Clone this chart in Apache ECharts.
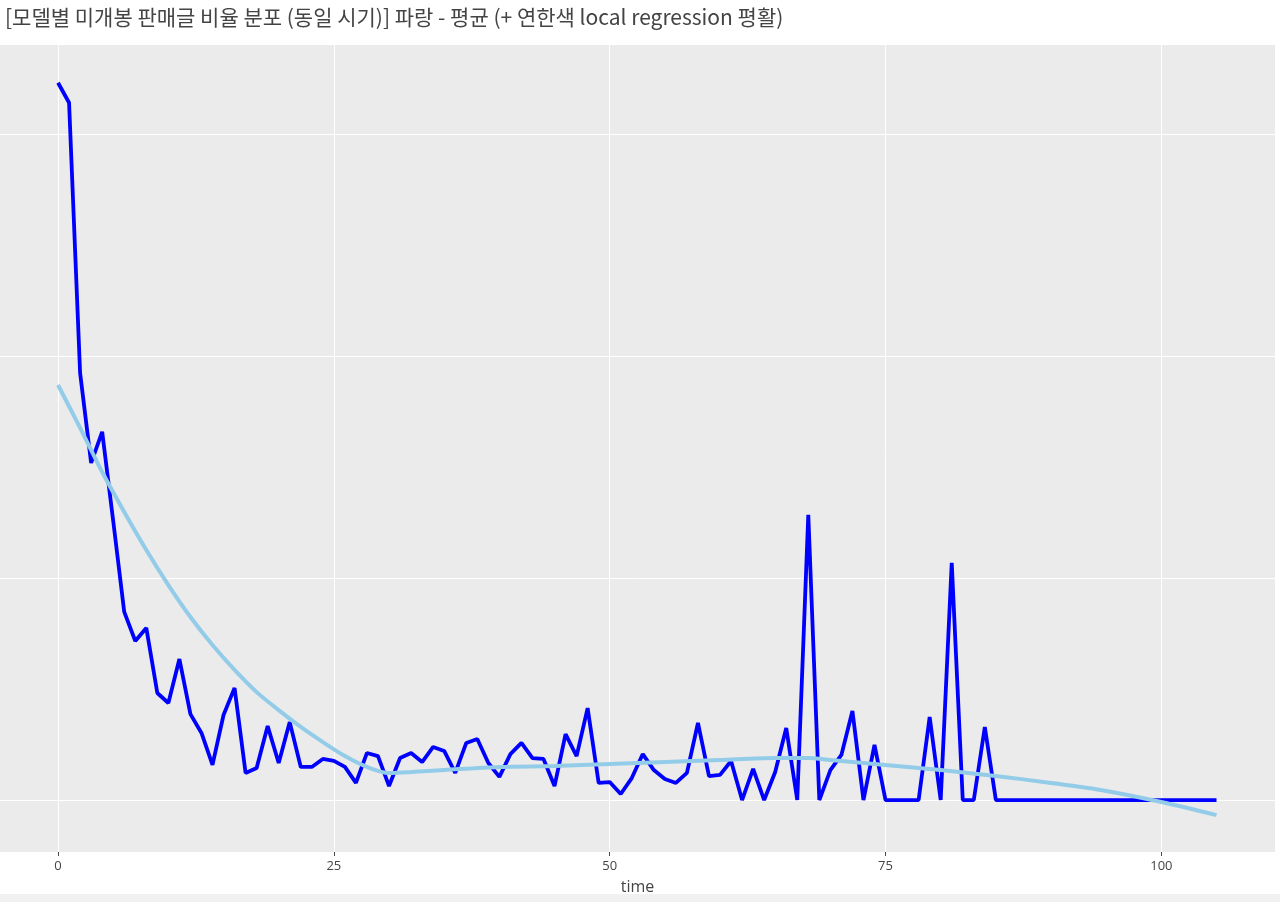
<!DOCTYPE html>
<html>
<head>
<meta charset="utf-8">
<script src="https://cdn.jsdelivr.net/npm/echarts@6/dist/echarts.min.js"></script>
<style>
html,body{margin:0;padding:0;background:#f1f1f1;}
#c{width:1280px;height:894px;background:#fff;}
</style>
</head>
<body>
<div id="c"></div>
<script>
const titleText = "[모델별 미개봉 판매글 비율 분포 (동일 시기)] 파랑 - 평균 (+ 연한색 local regression 평활)";
const xTicks = [0, 25, 50, 75, 100];
const yGrid = [0, 1, 2, 3];

// mean series, time 0..105
const meanTime = Array.from({length: 106}, (_, i) => i);
const meanValues = [
  3.230, 3.140, 1.923, 1.518, 1.658, 1.257, 0.847, 0.716, 0.775, 0.482,
  0.437, 0.635, 0.387, 0.302, 0.158, 0.383, 0.505, 0.122, 0.144, 0.333,
  0.167, 0.351, 0.149, 0.149, 0.185, 0.176, 0.149, 0.077, 0.212, 0.198,
  0.063, 0.189, 0.212, 0.171, 0.239, 0.221, 0.122, 0.257, 0.275, 0.167,
  0.104, 0.207, 0.257, 0.189, 0.185, 0.063, 0.297, 0.198, 0.414, 0.077,
  0.081, 0.027, 0.099, 0.207, 0.135, 0.095, 0.077, 0.122, 0.347, 0.108,
  0.113, 0.176, 0.000, 0.140, 0.000, 0.126, 0.324, 0.000, 1.284, 0.000,
  0.135, 0.203, 0.401, 0.000, 0.248, 0.000, 0.000, 0.000, 0.000, 0.374,
  0.000, 1.068, 0.000, 0.000, 0.329, 0.000, 0.000, 0.000, 0.000, 0.000,
  0.000, 0.000, 0.000, 0.000, 0.000, 0.000, 0.000, 0.000, 0.000, 0.000,
  0.000, 0.000, 0.000, 0.000, 0.000, 0.000
];

// local regression (loess) smooth
const smoothTime = [0, 2, 4, 6, 8, 10, 12, 14, 16, 18, 20, 22, 24, 26, 28, 30, 32, 35, 40, 45, 50, 55, 60, 65, 68, 70, 75, 80, 85, 90, 95, 100, 105];
const smoothValues = [1.869, 1.676, 1.477, 1.297, 1.126, 0.968, 0.824, 0.698, 0.586, 0.486, 0.405, 0.329, 0.261, 0.198, 0.149, 0.122, 0.126, 0.135, 0.149, 0.153, 0.162, 0.171, 0.180, 0.189, 0.189, 0.180, 0.158, 0.135, 0.108, 0.077, 0.041, -0.009, -0.068];

const meanData = meanTime.map((t, i) => [t, meanValues[i]]);
const smoothData = smoothTime.map((t, i) => [t, smoothValues[i]]);

const chart = echarts.init(document.getElementById('c'), null, {renderer: 'canvas'});
chart.setOption({
  animation: false,
  backgroundColor: '#ffffff',
  title: {
    text: titleText,
    left: 0,
    top: 2,
    textStyle: {fontFamily: '"Noto Sans CJK KR", "Open Sans", sans-serif', fontSize: 21, fontWeight: 'normal', color: '#444444'}
  },
  grid: {left: 0, right: 5, top: 45, bottom: 42, backgroundColor: '#ebebeb', show: true, borderWidth: 0, outerBoundsMode: 'none', containLabel: false},
  xAxis: {
    type: 'value',
    min: -5.26,
    max: 110.3,
    name: 'time',
    nameLocation: 'middle',
    nameGap: 27,
    nameTextStyle: {fontFamily: '"Open Sans", sans-serif', fontSize: 16, color: '#444444'},
    axisLine: {show: false, onZero: false},
    axisTick: {show: true, length: 4, lineStyle: {color: '#444444'}, customValues: xTicks},
    axisLabel: {show: true, customValues: xTicks, fontFamily: '"Open Sans", sans-serif', fontSize: 13, color: '#444444', margin: 8},
    splitLine: {show: true, lineStyle: {color: '#ffffff', width: 1}}
  },
  yAxis: {
    type: 'value',
    min: -0.234,
    max: 3.40,
    axisLine: {show: false, onZero: false},
    axisTick: {show: false, customValues: yGrid},
    axisLabel: {show: false, customValues: yGrid},
    splitLine: {show: true, lineStyle: {color: '#ffffff', width: 1}}
  },
  series: [
    {
      name: 'mean',
      type: 'line',
      data: meanData,
      showSymbol: false,
      lineStyle: {color: '#0000ff', width: 3.8},
      itemStyle: {color: '#0000ff'}
    },
    {
      name: 'loess',
      type: 'line',
      data: smoothData,
      smooth: 0.3,
      showSymbol: false,
      lineStyle: {color: '#93cce8', width: 4},
      itemStyle: {color: '#93cce8'}
    }
  ]
});
</script>
</body>
</html>
